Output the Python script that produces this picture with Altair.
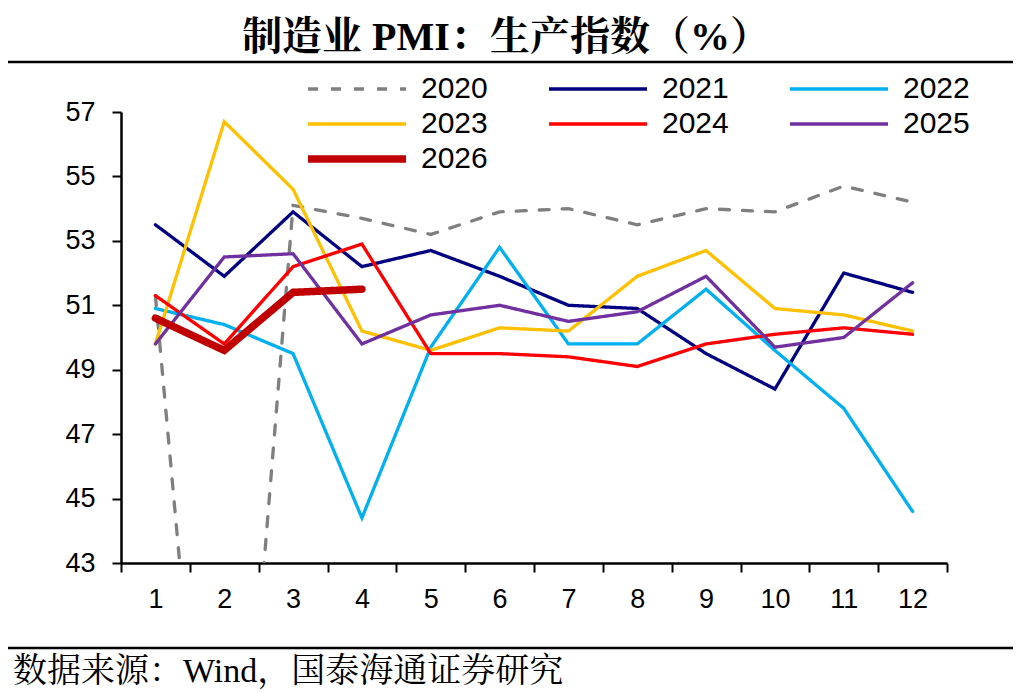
import altair as alt
import pandas as pd

months = list(range(1, 13))
years = ["2020", "2021", "2022", "2023", "2024", "2025", "2026"]

v2020 = [51.3, 27.8, 54.1, 53.7, 53.2, 53.9, 54.0, 53.5, 54.0, 53.9, 54.7, 54.2]
v2021 = [53.5, 51.9, 53.9, 52.2, 52.7, 51.9, 51.0, 50.9, 49.5, 48.4, 52.0, 51.4]
v2022 = [50.9, 50.4, 49.5, 44.4, 49.7, 52.8, 49.8, 49.8, 51.5, 49.6, 47.8, 44.6]
v2023 = [49.8, 56.7, 54.6, 50.2, 49.6, 50.3, 50.2, 51.9, 52.7, 50.9, 50.7, 50.2]
v2024 = [51.3, 49.8, 52.2, 52.9, 49.5, 49.5, 49.4, 49.1, 49.8, 50.1, 50.3, 50.1]
v2025 = [49.8, 52.5, 52.6, 49.8, 50.7, 51.0, 50.5, 50.8, 51.9, 49.7, 50.0, 51.7]
v2026 = [50.6, 49.6, 51.4, 51.5]

series = [v2020, v2021, v2022, v2023, v2024, v2025, v2026]

colors = ["#7F7F7F", "#000080", "#00B0F0", "#FFC000", "#FF0000", "#7030A0", "#C00000"]
widths = [3.3, 3.3, 3.3, 3.3, 3.3, 3.3, 7.5]
dashes = [[10, 13], [1, 0], [1, 0], [1, 0], [1, 0], [1, 0], [1, 0]]

title_text = "制造业 PMI：生产指数（%）"
source_text = "数据来源：Wind，国泰海通证券研究"

rows = []
for yr, vals in zip(years, series):
    for m, v in zip(months, vals):
        rows.append({"month": m, "value": v, "year": yr})
df = pd.DataFrame(rows)

sans = "Liberation Sans, Arial, Noto Sans CJK SC"
serif = "Liberation Serif, Times New Roman, Noto Serif CJK SC, Noto Sans CJK SC"

lines = alt.Chart(df).mark_line(clip=True, strokeCap="round").encode(
    x=alt.X("month:O", sort=months,
            scale=alt.Scale(type="band", paddingInner=0, paddingOuter=0),
            axis=alt.Axis(title=None, labelAngle=0, tickBand="extent", labelPadding=14)),
    y=alt.Y("value:Q", scale=alt.Scale(domain=[43, 57], nice=False, zero=False),
            axis=alt.Axis(title=None, values=[43, 45, 47, 49, 51, 53, 55, 57], labelPadding=17)),
    color=alt.Color("year:N", scale=alt.Scale(domain=years, range=colors), legend=alt.Legend(title=None)),
    strokeDash=alt.StrokeDash("year:N", scale=alt.Scale(domain=years, range=dashes), legend=alt.Legend(title=None)),
    strokeWidth=alt.StrokeWidth("year:N", scale=alt.Scale(type="ordinal", domain=years, range=widths), legend=alt.Legend(title=None)),
)

title = alt.Chart(pd.DataFrame({"t": [title_text]})).mark_text(
    font=serif, fontSize=40, fontWeight="bold", align="center", baseline="middle", color="black"
).encode(text="t:N", x=alt.value(385), y=alt.value(-74))

source = alt.Chart(pd.DataFrame({"t": [source_text]})).mark_text(
    font=serif, fontSize=34, align="left", baseline="middle", color="black"
).encode(text="t:N", x=alt.value(-108), y=alt.value(560))

rule_top = alt.Chart(pd.DataFrame({"a": [0]})).mark_rule(color="black", strokeWidth=2.5).encode(
    x=alt.value(-113), x2=alt.value(893), y=alt.value(-50))
rule_bot = alt.Chart(pd.DataFrame({"a": [0]})).mark_rule(color="black", strokeWidth=2.5).encode(
    x=alt.value(-113), x2=alt.value(893), y=alt.value(536))

chart = alt.layer(lines, title, source, rule_top, rule_bot).properties(
    width=826, height=451,
    autosize=alt.AutoSizeParams(type="none"),
    padding={"left": 113, "top": 104, "right": 66, "bottom": 128},
).configure_view(strokeWidth=0).configure_axis(
    domainColor="black", domainWidth=2.5, tickColor="black", tickWidth=2, tickSize=9,
    labelFont=sans, labelFontSize=27, labelColor="black", grid=False,
).configure_legend(
    orient="none", legendX=183, legendY=-39, columns=3, direction="horizontal",
    symbolType="stroke", symbolSize=9604, clipHeight=32,
    labelFont=sans, labelFontSize=30, labelColor="black",
    labelOffset=11, rowPadding=3, columnPadding=57, padding=0,
)

chart.save("out.html", embed_options={"renderer": "svg", "actions": False})
